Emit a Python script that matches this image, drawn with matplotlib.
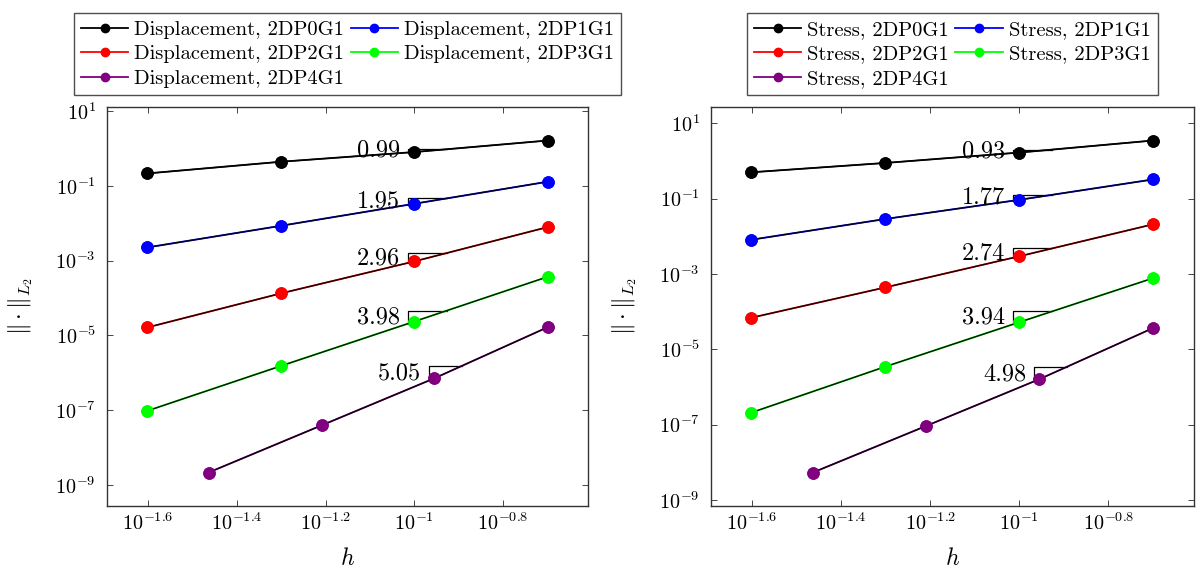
import numpy as np
import matplotlib
matplotlib.use("Agg")
import matplotlib.pyplot as plt

plt.rcParams['font.family'] = 'serif'
plt.rcParams['font.serif'] = ['cmr10']
plt.rcParams['mathtext.fontset'] = 'cm'
plt.rcParams['axes.formatter.use_mathtext'] = True

# ---------------- data ----------------
h = [0.025, 0.05, 0.1, 0.2]
h_p4 = [0.0344, 0.0618, 0.111, 0.2]

series_names = ['2DP0G1', '2DP1G1', '2DP2G1', '2DP3G1', '2DP4G1']
colors = ['#000000', '#0000ff', '#ff0000', '#00ff00', '#800080']

disp_p0 = [0.214, 0.44, 0.80, 1.63]
disp_p1 = [2.24e-3, 8.5e-3, 3.31e-2, 0.129]
disp_p2 = [1.62e-5, 1.32e-4, 9.5e-4, 7.9e-3]
disp_p3 = [9.5e-8, 1.51e-6, 2.34e-5, 3.7e-4]
disp_p4 = [2.14e-9, 3.9e-8, 7.1e-7, 1.66e-5]
disp_rates = ['0.99', '1.95', '2.96', '3.98', '5.05']

stress_p0 = [0.50, 0.885, 1.67, 3.49]
stress_p1 = [8.1e-3, 2.88e-2, 9.3e-2, 0.324]
stress_p2 = [6.9e-5, 4.4e-4, 2.95e-3, 2.09e-2]
stress_p3 = [2.09e-7, 3.47e-6, 5.25e-5, 7.8e-4]
stress_p4 = [5.4e-9, 9.3e-8, 1.62e-6, 3.7e-5]
stress_rates = ['0.93', '1.77', '2.74', '3.94', '4.98']

xtick_exp = ['-1.6', '-1.4', '-1.2', '-1', '-0.8']
ytick_exp = ['1', '-1', '-3', '-5', '-7', '-9']

# ---------------- figure ----------------
W, H = 1200, 574
fig = plt.figure(figsize=(W / 100, H / 100), dpi=100)


def px_axes(l, t, r, b):
    return fig.add_axes([l / W, 1 - b / H, (r - l) / W, (b - t) / H])


def draw_panel(ax, ys, rates, label_prefix):
    xs_all = [h, h, h, h, h_p4]
    handles = []
    for i, (x, y) in enumerate(zip(xs_all, ys)):
        ln, = ax.plot(x, y, color=colors[i], lw=1.3, marker='o', ms=8,
                      mec=colors[i], mfc=colors[i], zorder=3,
                      label=f'{label_prefix}, {series_names[i]}')
        ax.plot(x, y, color='black', lw=1.0, alpha=0.9, zorder=3.2)
        # redraw markers above the black overlay
        ax.plot(x, y, ls='none', marker='o', ms=8, mec=colors[i],
                mfc=colors[i], zorder=3.5)
        handles.append(ln)
        # slope triangle near third point
        lx = np.log10(x)
        ly = np.log10(y)
        s = (ly[3] - ly[2]) / (lx[3] - lx[2])
        d = lx[3] - lx[2]
        la = lx[2] - 0.045 * d
        lb = la + 0.29 * d
        ya = 10 ** (ly[2] + s * (la - lx[2]))
        yb = 10 ** (ly[2] + s * (lb - lx[2]))
        xa, xb = 10 ** la, 10 ** lb
        ax.plot([xa, xa, xb], [ya, yb, yb], color='black', lw=0.9, zorder=2)
        ax.annotate(rates[i], xy=(xa, np.sqrt(ya * yb)), xytext=(-6, 0),
                    textcoords='offset points', ha='right', va='center',
                    fontsize=17.5, zorder=4)
    ax.set_xscale('log')
    ax.set_yscale('log')
    ax.margins(x=0.1, y=0.1)
    xt = [10 ** float(e) for e in xtick_exp]
    ax.set_xticks(xt)
    ax.set_xticklabels([f'$10^{{{e}}}$' for e in xtick_exp])
    yt = [10 ** float(e) for e in ytick_exp]
    ax.set_yticks(yt)
    ax.set_yticklabels([f'$10^{{{e}}}$' for e in ytick_exp])
    ax.minorticks_off()
    ax.tick_params(which='both', direction='in', top=True, right=True,
                   length=4.5, width=0.7, labelsize=14.5,
                   color='#444444')
    ax.tick_params(axis='x', pad=5)
    ax.tick_params(axis='y', pad=8)
    for sp in ax.spines.values():
        sp.set_linewidth(1.0)
        sp.set_color('#333333')
    ax.set_xlabel('$h$', fontsize=17)
    ax.xaxis.set_label_coords(0.5, -0.105)
    ax.set_ylabel(r'$\|\cdot\|_{L_2}$', fontsize=17)
    ax.yaxis.set_label_coords(-0.15, 0.5)
    order = [0, 2, 4, 1, 3]
    leg = ax.legend([handles[k] for k in order],
                    [handles[k].get_label() for k in order],
                    ncol=2, loc='upper center',
                    bbox_to_anchor=(0.5, 1 + (107.3 - 3) / (505.7 - 107.3)),
                    frameon=True, fancybox=False, edgecolor='#222222',
                    fontsize=14.8, handlelength=2.3, handletextpad=0.3,
                    columnspacing=0.3, labelspacing=0.3, borderpad=0.35,
                    markerscale=0.75)
    leg.get_frame().set_linewidth(1.0)


ax1 = px_axes(107, 107.3, 588, 505.7)
draw_panel(ax1, [disp_p0, disp_p1, disp_p2, disp_p3, disp_p4], disp_rates,
           'Displacement')
ax2 = px_axes(711, 107.3, 1193.5, 505.7)
draw_panel(ax2, [stress_p0, stress_p1, stress_p2, stress_p3, stress_p4],
           stress_rates, 'Stress')

fig.savefig('out.png', dpi=100)
